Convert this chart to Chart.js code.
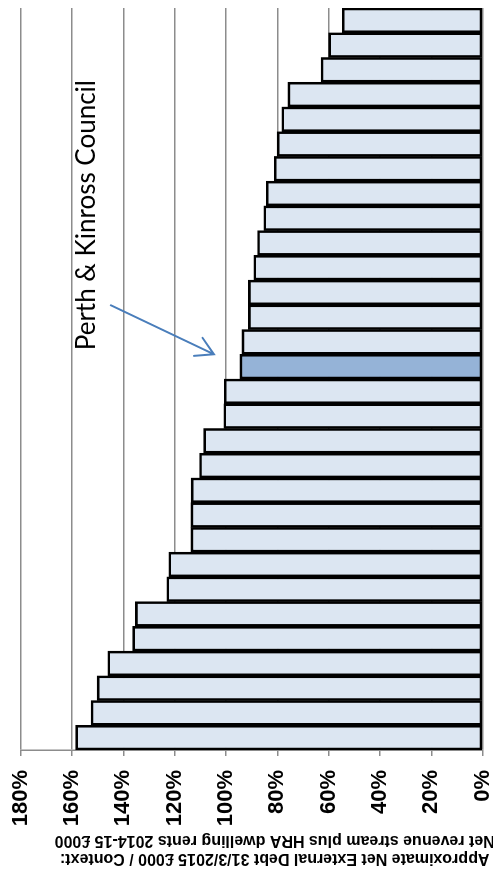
<!DOCTYPE html>
<html>
<head>
<meta charset="utf-8">
<title>Net External Debt ratio by council</title>
<script src="https://cdn.jsdelivr.net/npm/chart.js@4"></script>
<style>
  html, body { margin: 0; padding: 0; background: #ffffff; overflow: hidden; }
  /* The chart is laid out as a column chart and turned a quarter turn anticlockwise */
  #frame {
    position: absolute; left: 0; top: 0;
    width: 875px; height: 493px;
    transform-origin: 0 0;
    transform: translateY(875px) rotate(-90deg);
  }
</style>
</head>
<body>
<div id="frame"><canvas id="chart" width="875" height="493"></canvas></div>
<script>
// Councils in ranked order (highest ratio first); only the highlighted one is named
const councils = [
  '1', '2', '3', '4', '5', '6', '7', '8', '9', '10',
  '11', '12', '13', '14', '15', 'Perth & Kinross', '17', '18', '19', '20',
  '21', '22', '23', '24', '25', '26', '27', '28', '29', '30'
];

// Net external debt as % of net revenue stream plus HRA dwelling rents
const debtRatio = [
  158.6, 152.6, 150.2, 146.1, 136.4, 135.3, 123.1, 122.3, 113.7, 113.7,
  113.6, 110.3, 108.7, 100.9, 100.7, 94.6, 93.8, 91.3, 91.3, 89.2,
  87.7, 85.3, 84.3, 81.2, 80.1, 78.3, 75.9, 63.0, 60.0, 54.7
];

const highlightCouncil = 'Perth & Kinross';
const valueTicks = [0, 20, 40, 60, 80, 100, 120, 140, 160, 180];
const axisTitle = [
  'Approximate Net External Debt 31/3/2015 £000 / Context:',
  'Net revenue stream plus HRA dwelling rents 2014-15 £000'
];
const calloutText = 'Perth & Kinross Council';

const barFill = councils.map(c => c === highlightCouncil ? '#95B3D7' : '#DCE6F2');

// Axis title and the callout with its arrow
const overlay = {
  id: 'overlay',
  afterDraw(chart) {
    const ctx = chart.ctx;
    const ys = chart.scales.y;

    ctx.save();
    ctx.fillStyle = '#000000';
    ctx.font = 'bold 16px "Liberation Sans", Arial, sans-serif';
    ctx.textAlign = 'center';
    ctx.textBaseline = 'middle';
    const midY = (ys.top + ys.bottom) / 2 + 23;
    const lineX = [16.5, 35];
    axisTitle.forEach((line, i) => {
      ctx.save();
      ctx.translate(lineX[i], midY);
      ctx.rotate(-Math.PI / 2);
      ctx.fillText(line, 0, 0);
      ctx.restore();
    });
    ctx.restore();

    const idx = councils.indexOf(highlightCouncil);
    const bar = chart.getDatasetMeta(0).data[idx];
    const tipX = bar.x + bar.width / 2;
    const tipY = bar.y - 26;
    const startX = tipX + 49;
    const startY = tipY - 103;

    ctx.save();
    ctx.strokeStyle = '#4A7EBB';
    ctx.lineWidth = 2;
    ctx.lineCap = 'round';
    ctx.beginPath();
    ctx.moveTo(startX, startY);
    ctx.lineTo(tipX, tipY);
    const ang = Math.atan2(startY - tipY, startX - tipX);
    const headLen = 20, spread = Math.PI / 6;
    ctx.moveTo(tipX + headLen * Math.cos(ang + spread), tipY + headLen * Math.sin(ang + spread));
    ctx.lineTo(tipX, tipY);
    ctx.lineTo(tipX + headLen * Math.cos(ang - spread), tipY + headLen * Math.sin(ang - spread));
    ctx.stroke();

    ctx.fillStyle = '#000000';
    ctx.font = '26px Lato, "Open Sans", sans-serif';
    ctx.textAlign = 'left';
    ctx.textBaseline = 'alphabetic';
    ctx.fillText(calloutText, tipX + 4, tipY - 119);
    ctx.restore();
  }
};

new Chart(document.getElementById('chart'), {
  type: 'bar',
  data: {
    labels: councils,
    datasets: [{
      data: debtRatio,
      backgroundColor: barFill,
      borderColor: '#000000',
      borderWidth: 2.6,
      borderSkipped: false,
      categoryPercentage: 1.0,
      barPercentage: 1.0
    }]
  },
  options: {
    responsive: false,
    animation: false,
    layout: { autoPadding: false, padding: { top: 20.7, right: 8, bottom: 10.3, left: 0 } },
    plugins: {
      legend: { display: false },
      tooltip: { enabled: false },
      title: { display: false }
    },
    scales: {
      x: { display: false },
      y: {
        min: 0,
        max: 180,
        afterBuildTicks(scale) { scale.ticks = valueTicks.map(v => ({ value: v })); },
        afterFit(scale) {
          scale.width = 125;
          // end labels may overhang the plot; the outer margins already leave room
          scale.paddingTop = 0;
          scale.paddingBottom = 0;
        },
        border: { display: true, color: '#8C8C8C', width: 1.5 },
        grid: { color: '#8C8C8C', lineWidth: 1.5, tickColor: '#8C8C8C', tickLength: 6, drawTicks: true },
        ticks: {
          color: '#000000',
          padding: 14,
          font: { family: '"Liberation Sans", Arial, sans-serif', size: 22, weight: 'bold' },
          callback: v => v + '%'
        }
      }
    }
  },
  plugins: [overlay]
});
</script>
</body>
</html>
